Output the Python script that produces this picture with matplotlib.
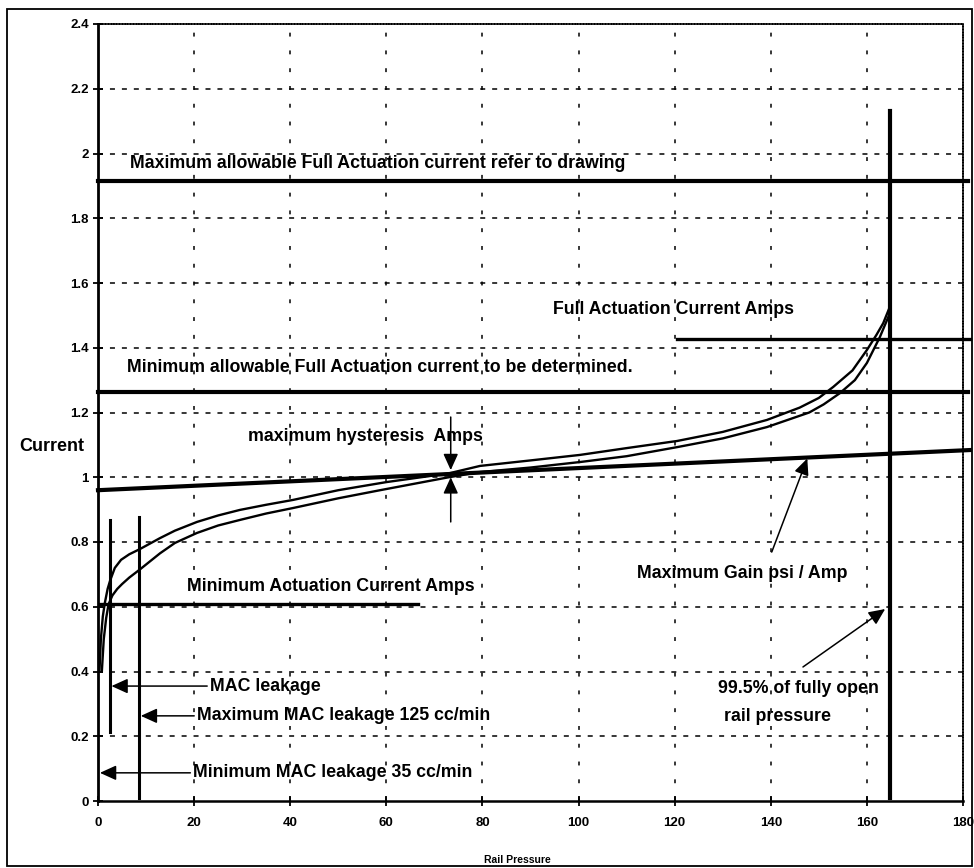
import numpy as np
import matplotlib.pyplot as plt
from matplotlib.patches import Rectangle

# hysteresis curves (rail pressure vs current)
up_x = [0.3, 0.6, 1.0, 1.4, 2.0, 2.5, 3.5, 4.8, 6.5, 8.7, 12.9, 16, 20.6, 25, 29.5,
        35, 40.6, 50, 60, 73, 79.5, 90, 100.3, 110, 120.5, 130, 139.2, 146, 150,
        153, 157, 160, 162, 163.4, 164.6]
up_y = [0.40, 0.50, 0.57, 0.61, 0.655, 0.68, 0.72, 0.745, 0.762, 0.778, 0.812, 0.835,
        0.862, 0.882, 0.899, 0.915, 0.93, 0.96, 0.985, 1.012, 1.035, 1.052, 1.069,
        1.09, 1.112, 1.14, 1.177, 1.215, 1.245, 1.279, 1.33, 1.393, 1.44, 1.476, 1.52]
lo_x = [0.8, 1.2, 1.7, 2.2, 3.0, 4.0, 5, 6.5, 8.7, 12.9, 16, 20.6, 25, 29.5, 35, 40.6,
        50, 58.7, 73, 79.5, 90, 100.3, 110, 120.5, 130, 139.2, 148, 151, 154.4, 157.5,
        160, 162.7, 164.6]
lo_y = [0.40, 0.50, 0.565, 0.608, 0.635, 0.655, 0.67, 0.69, 0.715, 0.765, 0.797, 0.828,
        0.851, 0.868, 0.888, 0.905, 0.935, 0.96, 1.0, 1.016, 1.03, 1.047, 1.065, 1.093,
        1.12, 1.155, 1.2, 1.225, 1.26, 1.3, 1.353, 1.433, 1.5]

# limit lines
max_full = 1.915
min_full = 1.263
full_act = 1.427
full_act_start = 120.5
min_act = 0.608
min_act_end = 66.6
gain_x = [0, 181.4]
gain_y = [0.96, 1.084]

# leakage / open markers
mac_x, mac_y = 2.5, [0.213, 0.868]
max_mac_x, max_mac_y = 8.5, [0.01, 0.877]
open_x, open_y = 164.8, [0.01, 2.13]
hyst_x = 73.4

xticks = list(range(0, 181, 20))
yticks = [0, 0.2, 0.4, 0.6, 0.8, 1, 1.2, 1.4, 1.6, 1.8, 2, 2.2, 2.4]

plt.rcParams['font.family'] = ['Liberation Sans', 'DejaVu Sans']
plt.rcParams['font.weight'] = 'bold'
plt.rcParams['lines.scale_dashes'] = False

fig = plt.figure(figsize=(9.74, 8.68), dpi=100)
ax = fig.add_axes([98 / 974, 1 - 801 / 868, 865 / 974, 777 / 868])
fig.patches.append(Rectangle((7 / 974, 2 / 868), 965 / 974, 857 / 868,
                             transform=fig.transFigure, fill=False, lw=1.3, ec='black'))

ax.set_xlim(0, 180)
ax.set_ylim(0, 2.4)
ax.set_xticks(xticks)
ax.set_yticks(yticks)
ax.set_xticklabels([str(t) for t in xticks])
ax.set_yticklabels(['%g' % t for t in yticks])
ax.tick_params(direction='inout', length=7, width=1.3, labelsize=9.5)
ax.tick_params(axis='x', pad=8)
ax.tick_params(axis='y', pad=3)
for lab in ax.get_xticklabels() + ax.get_yticklabels():
    lab.set_fontweight('bold')

# grid
for t in yticks[1:-1]:
    ax.axhline(t, color='black', lw=1.1, ls=(0, (3.6, 5)), zorder=1)
for t in xticks[1:-1]:
    ax.axvline(t, color='black', lw=1.1, ls=(0, (2.8, 10)), zorder=1)

for s in ['top', 'right']:
    ax.spines[s].set_linestyle((0, (1, 1)))
    ax.spines[s].set_linewidth(1.2)
ax.spines['left'].set_linewidth(2)
ax.spines['bottom'].set_linewidth(1.8)

# limit lines
ax.plot([0, 181], [max_full, max_full], color='black', lw=3, clip_on=False)
ax.plot([0, 181], [min_full, min_full], color='black', lw=3, clip_on=False)
ax.plot([full_act_start, 181.5], [full_act, full_act], color='black', lw=2.4, clip_on=False)
ax.plot([0, min_act_end], [min_act, min_act], color='black', lw=2.4)
ax.plot(gain_x, gain_y, color='black', lw=3, clip_on=False)

# curves
ax.plot(up_x, up_y, color='black', lw=1.7, solid_joinstyle='round')
ax.plot(lo_x, lo_y, color='black', lw=1.7, solid_joinstyle='round')

# vertical markers
ax.plot([mac_x, mac_x], mac_y, color='black', lw=2.2)
ax.plot([max_mac_x, max_mac_x], max_mac_y, color='black', lw=2.2)
ax.plot([open_x, open_x], open_y, color='black', lw=3)

arrow = dict(arrowstyle='-|>,head_length=0.55,head_width=0.25', mutation_scale=18,
             color='black', lw=1.1, shrinkA=0, shrinkB=0)
fs = 12.8

ax.text(6.7, 1.97, 'Maximum allowable Full Actuation current refer to drawing',
        fontsize=fs, fontweight='bold', va='center')
ax.text(6.0, 1.34, 'Minimum allowable Full Actuation current to be determined.',
        fontsize=fs, fontweight='bold', va='center')
ax.text(94.7, 1.517, 'Full Actuation Current Amps', fontsize=fs, fontweight='bold', va='center')
ax.text(31.2, 1.127, 'maximum hysteresis  Amps', fontsize=fs, fontweight='bold', va='center')
ax.text(18.5, 0.664, 'Minimum Actuation Current Amps', fontsize=fs, fontweight='bold', va='center')
ax.text(112.2, 0.704, 'Maximum Gain psi / Amp', fontsize=fs, fontweight='bold', va='center')
ax.text(129, 0.349, '99.5% of fully open', fontsize=fs, fontweight='bold', va='center')
ax.text(130.3, 0.26, 'rail pressure', fontsize=fs, fontweight='bold', va='center')

# hysteresis arrows
ax.annotate('', xy=(hyst_x, 1.022), xytext=(hyst_x, 1.186), arrowprops=arrow)
ax.annotate('', xy=(hyst_x, 1.0), xytext=(hyst_x, 0.862), arrowprops=arrow)
# gain arrow
ax.annotate('', xy=(147.6, 1.058), xytext=(140.2, 0.769), arrowprops=arrow)
# open arrow
ax.annotate('', xy=(163.8, 0.593), xytext=(146.7, 0.414), arrowprops=arrow)

# leakage arrows
ax.annotate('MAC leakage', xy=(2.8, 0.355), xytext=(23.3, 0.355), arrowprops=arrow,
            fontsize=fs, fontweight='bold', va='center', ha='left')
ax.annotate('Maximum MAC leakage 125 cc/min', xy=(8.9, 0.263), xytext=(20.6, 0.263),
            arrowprops=arrow, fontsize=fs, fontweight='bold', va='center', ha='left')
ax.annotate('Minimum MAC leakage 35 cc/min', xy=(0.4, 0.087), xytext=(19.8, 0.087),
            arrowprops=arrow, fontsize=fs, fontweight='bold', va='center', ha='left')

fig.text(52 / 974, 1 - 446 / 868, 'Current', fontsize=13, fontweight='bold',
         ha='center', va='center')
fig.text(517 / 974, 1 - 860 / 868, 'Rail Pressure', fontsize=7.5, fontweight='bold',
         ha='center', va='center')

fig.savefig('out.png', dpi=100)
